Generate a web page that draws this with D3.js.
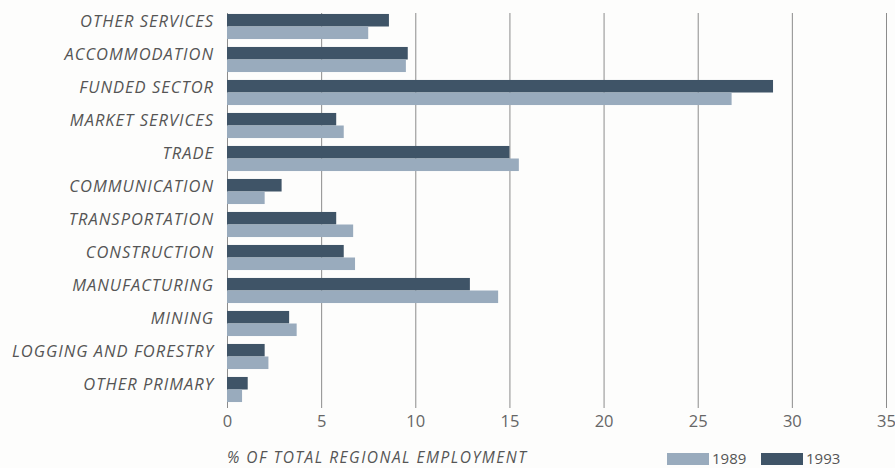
<!DOCTYPE html>
<html>
<head>
<meta charset="utf-8">
<script src="https://cdn.jsdelivr.net/npm/d3@7"></script>
<style>
  html, body { margin: 0; padding: 0; background: #fdfdfc; }
  svg { display: block; }
  text { font-family: "Open Sans", "DejaVu Sans", sans-serif; }
</style>
</head>
<body>
<div id="chart"></div>
<script>
// categories, top to bottom
const categories = [
  "OTHER SERVICES", "ACCOMMODATION", "FUNDED SECTOR", "MARKET SERVICES",
  "TRADE", "COMMUNICATION", "TRANSPORTATION", "CONSTRUCTION",
  "MANUFACTURING", "MINING", "LOGGING AND FORESTRY", "OTHER PRIMARY"
];
const values1993 = [8.6, 9.6, 29.0, 5.8, 15.0, 2.9, 5.8, 6.2, 12.9, 3.3, 2.0, 1.1];
const values1989 = [7.5, 9.5, 26.8, 6.2, 15.5, 2.0, 6.7, 6.8, 14.4, 3.7, 2.2, 0.8];
const years = ["1993", "1989"];
const legendYears = ["1989", "1993"];
const xTicks = [0, 5, 10, 15, 20, 25, 30, 35];
const axisTitle = "% OF TOTAL REGIONAL EMPLOYMENT";

const width = 895, height = 468;
const colors = { "1989": "#99abbd", "1993": "#3f5467" };

const svg = d3.select("#chart").append("svg")
  .attr("width", width)
  .attr("height", height);

const x = d3.scaleLinear().domain([0, 35]).range([227, 886]);

const y = d3.scaleBand()
  .domain(categories)
  .range([10, 406])
  .paddingInner(0.24)
  .paddingOuter(0.12);

const ySub = d3.scaleBand()
  .domain(years)
  .range([0, y.bandwidth()]);

// gridlines with ticks
const grid = svg.append("g")
  .attr("transform", "translate(0,408)")
  .call(d3.axisBottom(x).tickValues(xTicks).tickSize(-395).tickSizeOuter(0).tickPadding(7));
grid.select(".domain").remove();
grid.selectAll(".tick line").attr("stroke", "#8c8c8c").attr("stroke-width", 1);
grid.selectAll(".tick text")
  .attr("fill", "#666")
  .attr("font-size", 16.5)
  .attr("font-family", "'Open Sans', sans-serif");

// bars
const rows = categories.map((c, i) => ({ cat: c, "1993": values1993[i], "1989": values1989[i] }));

const row = svg.append("g").selectAll("g")
  .data(rows)
  .join("g")
  .attr("transform", d => `translate(0,${y(d.cat)})`);

row.selectAll("rect")
  .data(d => years.map(k => ({ key: k, value: d[k] })))
  .join("rect")
  .attr("x", x(0))
  .attr("y", d => ySub(d.key))
  .attr("width", d => x(d.value) - x(0))
  .attr("height", ySub.bandwidth())
  .attr("fill", d => colors[d.key]);

// category labels
svg.append("g").selectAll("text")
  .data(categories)
  .join("text")
  .attr("x", 214)
  .attr("y", d => y(d) + ySub.bandwidth() / 2 + 1)
  .attr("dy", "0.35em")
  .attr("text-anchor", "end")
  .attr("font-size", 16.5)
  .attr("font-style", "italic")
  .attr("letter-spacing", 1)
  .attr("fill", "#555")
  .text(d => d);

// axis title
svg.append("text")
  .attr("x", 227)
  .attr("y", 458)
  .attr("dy", "0.35em")
  .attr("font-size", 15.5)
  .attr("font-style", "italic")
  .attr("letter-spacing", 1.5)
  .attr("fill", "#555")
  .text(axisTitle);

// legend
const legend = svg.append("g").attr("transform", "translate(667,453)");
const legendItem = legend.selectAll("g")
  .data(legendYears)
  .join("g")
  .attr("transform", (d, i) => `translate(${i * 94},0)`);
legendItem.append("rect")
  .attr("width", 42)
  .attr("height", 12)
  .attr("fill", d => colors[d]);
legendItem.append("text")
  .attr("x", 45)
  .attr("y", 6)
  .attr("dy", "0.32em")
  .attr("font-size", 15)
  .attr("fill", "#555")
  .text(d => d);
</script>
</body>
</html>
